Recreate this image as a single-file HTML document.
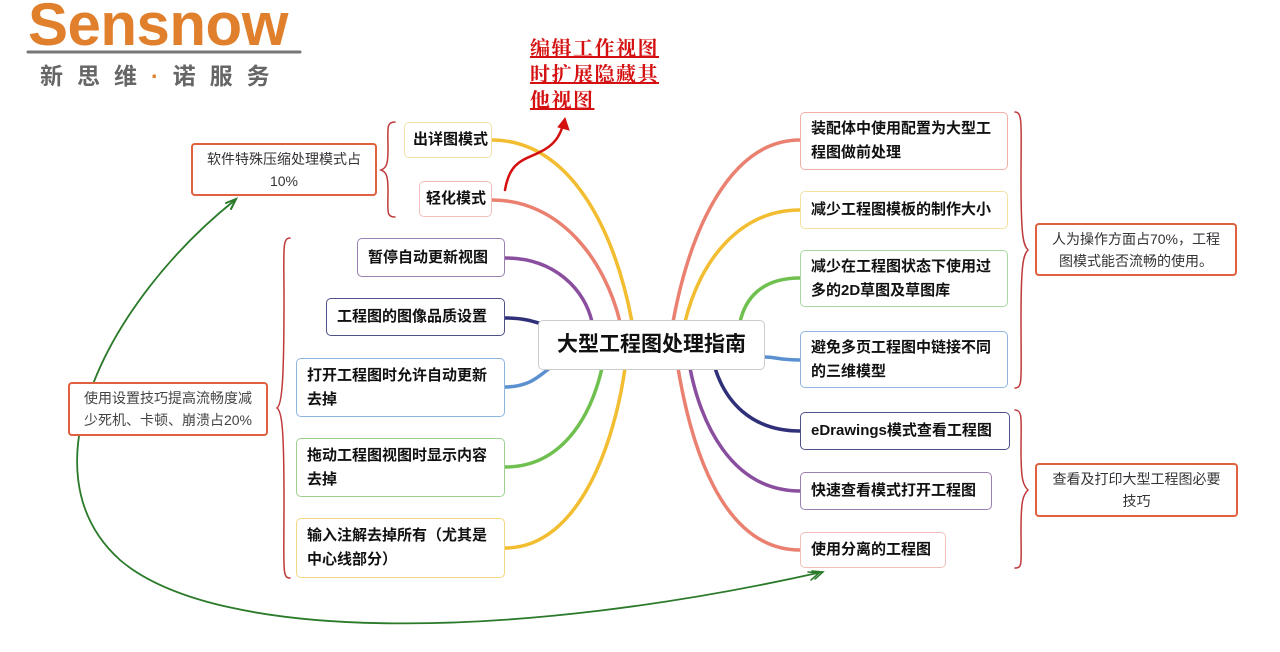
<!DOCTYPE html>
<html><head><meta charset="utf-8"><style>
body{margin:0;width:1280px;height:652px;background:#fff;position:relative;overflow:hidden;font-family:"Liberation Sans","Noto Sans CJK SC",sans-serif}
.n{position:absolute;box-sizing:border-box;border:1.5px solid;border-radius:5px;background:#fff;font-weight:bold;font-size:15px;line-height:24px;color:#111;padding:0 10px;display:flex;align-items:center;white-space:nowrap}
.s{position:absolute;box-sizing:border-box;border:2px solid #e0603f;border-radius:4px;background:#fff;font-size:14px;line-height:22px;color:#333;text-align:center;display:flex;align-items:center;justify-content:center}
svg{position:absolute;left:0;top:0}
</style></head><body>
<svg width="1280" height="652" fill="none" stroke-linecap="round">
<g stroke-width="3.5">
<path d="M492,140 C570,140 615,230 632,322" stroke="#f2bd30"/>
<path d="M492,200 C560,200 605,260 620,322" stroke="#ea8070"/>
<path d="M505,258 C555,258 585,290 592,322" stroke="#8a4e9e"/>
<path d="M505,318 C525,318 535,322 545,325" stroke="#30307a"/>
<path d="M505,387 C530,387 540,375 550,368" stroke="#5a90d0"/>
<path d="M505,467 C560,467 590,420 602,368" stroke="#70c050"/>
<path d="M505,548 C580,548 615,440 625,368" stroke="#f2bd30"/>
<path d="M800,140 C730,140 690,230 673,322" stroke="#ea8070"/>
<path d="M800,210 C740,210 700,260 685,322" stroke="#f2bd30"/>
<path d="M800,278 C760,278 745,300 740,322" stroke="#70c050"/>
<path d="M800,360 C780,360 775,357 765,357" stroke="#5a90d0"/>
<path d="M800,431 C750,431 725,400 715,368" stroke="#30307a"/>
<path d="M800,491 C730,491 700,420 690,368" stroke="#8a4e9e"/>
<path d="M800,550 C720,550 690,440 678,368" stroke="#ea8070"/>
</g>
<g stroke="#c0393b" stroke-width="1.5">
<path d="M395,122 C386,122 388,128 388,150 C388,165 386,168 381,170 C386,172 388,175 388,190 C388,212 386,217 395,217"/>
<path d="M290,238 C282,238 284,250 284,300 C284,380 282,405 277,408 C282,411 284,430 284,500 C284,570 282,578 290,578"/>
<path d="M1015,112 C1023,112 1021,125 1021,180 C1021,235 1023,245 1028,250 C1023,255 1021,265 1021,320 C1021,380 1023,388 1015,388"/>
<path d="M1015,410 C1023,410 1021,420 1021,450 C1021,480 1023,485 1028,490 C1023,495 1021,500 1021,530 C1021,563 1023,568 1015,568"/>
</g>
<path d="M505,190 C510,160 525,160 540,152 C555,145 560,135 563,125" stroke="#d41010" stroke-width="2.5"/>
<path d="M558,127 L565,118 L569,130 Z" fill="#d41010" stroke="#d41010"/>
<path d="M235,200 C110,300 20,470 120,560 C220,645 520,640 822,572" stroke="#2a7a2a" stroke-width="1.8"/>
<path d="M226,203 L236,199 L231,209" stroke="#2a7a2a" stroke-width="2"/>
<path d="M812,571 L823,572 L815,579 M808,572 L819,573 L811,580" stroke="#2a7a2a" stroke-width="1.5"/>
<line x1="28" y1="52" x2="300" y2="52" stroke="#777" stroke-width="3"/>
</svg>
<div style="position:absolute;left:28px;top:-10px;font-size:60px;font-weight:bold;color:#e07f2c;letter-spacing:-0.5px;font-family:'Liberation Sans',sans-serif">Sensnow</div>
<div style="position:absolute;left:40px;top:57px;font-size:23px;font-weight:bold;color:#666;letter-spacing:14px;font-family:'Liberation Sans','Noto Sans CJK SC',sans-serif">新思维<span style="color:#e07f2c">·</span>诺服务</div>
<div style="position:absolute;left:530px;top:36px;font-size:20px;line-height:26px;letter-spacing:1.5px;font-weight:bold;color:#d41010;text-decoration:underline;font-family:'Liberation Serif','Noto Serif CJK SC',serif">编辑工作视图<br>时扩展隐藏其<br>他视图</div>

<div class="n" style="left:538px;top:320px;width:227px;height:50px;border-color:#ccc;font-size:21px;justify-content:center">大型工程图处理指南</div>

<div class="n" style="left:404px;top:122px;width:88px;height:36px;border-color:#f5e2a8;padding:0 8px">出详图模式</div>
<div class="n" style="left:419px;top:181px;width:73px;height:36px;border-color:#f0c0b8;padding:0 6px">轻化模式</div>
<div class="s" style="left:191px;top:143px;width:186px;height:53px">软件特殊压缩处理模式占<br>10%</div>
<div class="n" style="left:357px;top:238px;width:148px;height:39px;border-color:#9a80b0">暂停自动更新视图</div>
<div class="n" style="left:326px;top:298px;width:179px;height:38px;border-color:#50508a">工程图的图像品质设置</div>
<div class="n" style="left:296px;top:358px;width:209px;height:59px;border-color:#8eb4e0">打开工程图时允许自动更新<br>去掉</div>
<div class="n" style="left:296px;top:438px;width:209px;height:59px;border-color:#9ed08e">拖动工程图视图时显示内容<br>去掉</div>
<div class="n" style="left:296px;top:518px;width:209px;height:60px;border-color:#f2d880">输入注解去掉所有（尤其是<br>中心线部分）</div>
<div class="s" style="left:68px;top:382px;width:200px;height:54px;color:#444">使用设置技巧提高流畅度减<br>少死机、卡顿、崩溃占20%</div>

<div class="n" style="left:800px;top:112px;width:208px;height:58px;border-color:#f0b0a8">装配体中使用配置为大型工<br>程图做前处理</div>
<div class="n" style="left:800px;top:191px;width:208px;height:38px;border-color:#f5e0a0">减少工程图模板的制作大小</div>
<div class="n" style="left:800px;top:250px;width:208px;height:57px;border-color:#a8d8a0">减少在工程图状态下使用过<br>多的2D草图及草图库</div>
<div class="n" style="left:800px;top:331px;width:208px;height:57px;border-color:#90b4dc">避免多页工程图中链接不同<br>的三维模型</div>
<div class="n" style="left:800px;top:412px;width:210px;height:38px;border-color:#50508a">eDrawings模式查看工程图</div>
<div class="n" style="left:800px;top:472px;width:192px;height:38px;border-color:#9a80b0">快速查看模式打开工程图</div>
<div class="n" style="left:800px;top:532px;width:146px;height:36px;border-color:#f0c0b8">使用分离的工程图</div>
<div class="s" style="left:1035px;top:223px;width:202px;height:53px">人为操作方面占70%，工程<br>图模式能否流畅的使用。</div>
<div class="s" style="left:1035px;top:463px;width:203px;height:54px">查看及打印大型工程图必要<br>技巧</div>
</body></html>
